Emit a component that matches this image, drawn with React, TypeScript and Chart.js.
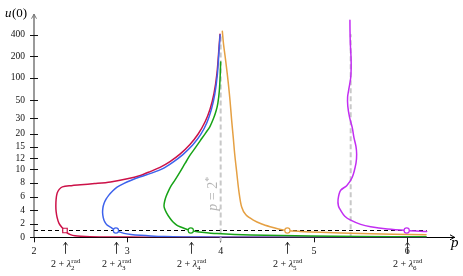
import React, { useEffect, useRef } from 'react';
import { Chart, registerables, LinearScale } from 'chart.js';

// ---------- data ----------
const X_TICKS = [2, 3, 4, 5, 6];
const Y_TICKS = [0, 2, 4, 6, 8, 10, 12, 15, 20, 30, 50, 100, 200, 400];
const X_MIN = 2;
const X_MAX = 6.5;
const Y_MIN = 0;
const Y_MAX = 780;

const LAMBDA_K = [2, 3, 4, 5, 6];
const LAMBDA_P = [2.332, 2.878, 3.68, 4.715, 5.993];
const LEVEL_U = 1;
const LEVEL_P_END = 6.207;
const CRITICAL_P = 4;
const CRITICAL_U_RANGE = [-0.6, 400];
const ASYM6_P = 5.393;
const ASYM6_U_RANGE = [0, 410];

const RED_P = [6.2, 5.0, 4.0, 3.4, 3.0, 2.75, 2.6, 2.5, 2.44, 2.39, 2.355, 2.332, 2.3, 2.268, 2.248, 2.237, 2.234, 2.237, 2.248, 2.27, 2.304, 2.4, 2.5, 2.65, 2.82, 3.0, 3.14, 3.25, 3.35, 3.457, 3.564, 3.671, 3.757, 3.832, 3.886, 3.928, 3.96, 3.982, 3.993];
const RED_U = [0.005, 0.008, 0.012, 0.02, 0.03, 0.05, 0.08, 0.14, 0.22, 0.4, 0.65, 1.0, 1.45, 2.05, 2.9, 3.8, 4.6, 5.6, 6.5, 7.05, 7.42, 7.6, 7.72, 7.9, 8.15, 8.6, 9.1, 9.7, 10.3, 11.3, 12.9, 15.7, 19.8, 27, 38.5, 61, 114, 260, 410];

const BLUE_P = [6.2, 5.0, 4.0, 3.6, 3.4, 3.25, 3.14, 3.04, 2.964, 2.915, 2.878, 2.845, 2.815, 2.78, 2.757, 2.742, 2.735, 2.738, 2.75, 2.772, 2.8, 2.845, 2.89, 2.96, 3.036, 3.14, 3.25, 3.38, 3.49, 3.595, 3.7, 3.785, 3.852, 3.9, 3.937, 3.965, 3.984, 3.994];
const BLUE_U = [0.005, 0.01, 0.02, 0.05, 0.1, 0.19, 0.29, 0.42, 0.58, 0.8, 1.0, 1.25, 1.55, 1.85, 2.3, 2.9, 3.6, 4.3, 4.96, 5.6, 6.17, 6.85, 7.38, 7.9, 8.36, 8.9, 9.4, 10.1, 11.2, 12.8, 15.5, 19.6, 26.5, 38, 60, 112, 255, 400];

const GREEN_P = [6.2, 5.5, 4.96, 4.32, 3.96, 3.8, 3.72, 3.68, 3.62, 3.565, 3.529, 3.49, 3.457, 3.42, 3.397, 3.393, 3.4, 3.415, 3.44, 3.47, 3.51, 3.56, 3.62, 3.67, 3.72, 3.78, 3.84, 3.885, 3.925, 3.952, 3.97, 3.985, 3.994, 4.0];
const GREEN_U = [0.08, 0.12, 0.19, 0.33, 0.55, 0.75, 0.9, 1.0, 1.25, 1.55, 1.8, 2.25, 2.8, 3.6, 4.3, 4.7, 5.3, 6.0, 6.8, 7.6, 8.4, 9.5, 11, 12.6, 14.3, 17, 20.5, 24, 30, 37, 46, 65, 100, 165];

const ORANGE_P = [4.018, 4.03, 4.046, 4.062, 4.08, 4.1, 4.118, 4.135, 4.15, 4.17, 4.195, 4.225, 4.27, 4.35, 4.44, 4.53, 4.62, 4.715, 4.85, 5.07, 5.5, 6.2];
const ORANGE_U = [450, 300, 206, 140, 88, 50, 28, 18.3, 13, 9.8, 6.8, 4.46, 3.3, 2.52, 1.95, 1.55, 1.22, 1.0, 0.87, 0.73, 0.55, 0.37];

const MAGENTA_P = [5.385, 5.386, 5.39, 5.397, 5.398, 5.393, 5.375, 5.36, 5.362, 5.38, 5.41, 5.428, 5.45, 5.457, 5.45, 5.41, 5.35, 5.285, 5.258, 5.262, 5.285, 5.33, 5.393, 5.5, 5.607, 5.786, 5.993, 6.207];
const MAGENTA_U = [650, 450, 286, 190, 134, 99, 72, 55, 42, 31, 23.3, 18.3, 15, 12.9, 11, 8.83, 7.6, 6.9, 5.6, 4.6, 3.98, 3.1, 2.52, 1.9, 1.55, 1.21, 1.0, 0.87];

const COLORS = ['#cc1148', '#3d62ec', '#17a317', '#e5a043', '#c22ef2'];
const MARKER_STYLES = ['rect', 'circle', 'circle', 'circle', 'circle'];

// ---------- warped y scale (linear up to 10, logarithmic-like above) ----------
const WARP_LIN = 10;
const WARP_C = 4.4;
const warp = (u: number) => (u <= WARP_LIN ? u : WARP_LIN + WARP_C * Math.log(1 + (u - WARP_LIN) / WARP_C));
const unwarp = (t: number) => (t <= WARP_LIN ? t : WARP_LIN + WARP_C * (Math.exp((t - WARP_LIN) / WARP_C) - 1));

class WarpScale extends (LinearScale as any) {
  static id = 'warp';
  static defaults = {};
  buildTicks() {
    return Y_TICKS.map((v) => ({ value: v }));
  }
  getPixelForValue(v: number) {
    const a = warp(this.min);
    const b = warp(this.max);
    return this.getPixelForDecimal((warp(v) - a) / (b - a));
  }
  getValueForPixel(px: number) {
    const a = warp(this.min);
    const b = warp(this.max);
    return unwarp(a + this.getDecimalForPixel(px) * (b - a));
  }
}

Chart.register(...registerables);
Chart.register(WarpScale as any);

const SERIF = '"Liberation Serif", "DejaVu Serif", serif';

const pts = (P: number[], U: number[]) => P.map((p, i) => ({ x: p, y: U[i] }));

const overlay = {
  id: 'overlay',
  afterDraw(chart: any) {
    const { ctx, chartArea: a, scales } = chart;
    const xs = scales.x;
    const ys = scales.y;
    ctx.save();
    // y tick marks crossing the axis
    ctx.strokeStyle = '#111';
    ctx.lineWidth = 1;
    Y_TICKS.forEach((v) => {
      const py = Math.round(ys.getPixelForValue(v)) + 0.5;
      ctx.beginPath();
      ctx.moveTo(a.left - 4, py);
      ctx.lineTo(a.left + 4, py);
      ctx.stroke();
    });
    // arrow heads
    ctx.strokeStyle = '#777';
    ctx.beginPath();
    ctx.moveTo(a.left - 2.5, a.top + 4);
    ctx.lineTo(a.left, a.top - 0.5);
    ctx.lineTo(a.left + 2.5, a.top + 4);
    ctx.stroke();
    ctx.strokeStyle = '#000';
    ctx.beginPath();
    ctx.moveTo(a.right - 4, a.bottom - 2.5);
    ctx.lineTo(a.right + 0.5, a.bottom);
    ctx.lineTo(a.right - 4, a.bottom + 2.5);
    ctx.stroke();
    // axis titles
    ctx.fillStyle = '#000';
    ctx.textAlign = 'left';
    ctx.textBaseline = 'alphabetic';
    ctx.font = `italic 13px ${SERIF}`;
    ctx.fillText('u', 5, 17);
    const wu = ctx.measureText('u').width;
    ctx.font = `13px ${SERIF}`;
    ctx.fillText('(0)', 5 + wu + 0.5, 17);
    ctx.font = `italic 15px ${SERIF}`;
    ctx.fillText('p', a.right - 3, a.bottom + 10);

    // rotated label p = 2*
    ctx.save();
    ctx.translate(xs.getPixelForValue(CRITICAL_P) - 4, ys.getPixelForValue(6.4));
    ctx.rotate(-Math.PI / 2);
    ctx.fillStyle = '#b4b4b4';
    ctx.font = `italic 14px ${SERIF}`;
    const w1 = ctx.measureText('p').width;
    ctx.font = `14px ${SERIF}`;
    const w2 = ctx.measureText(' = 2').width;
    ctx.font = `10px ${SERIF}`;
    const w3 = ctx.measureText('*').width;
    let sx = -(w1 + w2 + w3) / 2;
    ctx.font = `italic 14px ${SERIF}`;
    ctx.fillText('p', sx, 0);
    sx += w1;
    ctx.font = `14px ${SERIF}`;
    ctx.fillText(' = 2', sx, 0);
    sx += w2;
    ctx.font = `10px ${SERIF}`;
    ctx.fillText('*', sx, -5);
    ctx.restore();

    // lambda arrows and labels
    LAMBDA_P.forEach((p, i) => {
      const px = Math.round(xs.getPixelForValue(p)) + 0.5;
      const tip = a.bottom + 5;
      const tail = a.bottom + 16.5;
      ctx.strokeStyle = '#222';
      ctx.lineWidth = 0.9;
      ctx.beginPath();
      ctx.moveTo(px, tail);
      ctx.lineTo(px, tip);
      ctx.stroke();
      ctx.beginPath();
      ctx.moveTo(px - 2, tip + 3);
      ctx.lineTo(px, tip);
      ctx.lineTo(px + 2, tip + 3);
      ctx.stroke();

      const base = a.bottom + 30;
      ctx.fillStyle = '#111';
      ctx.font = `10px ${SERIF}`;
      const wa = ctx.measureText('2 + ').width;
      ctx.font = `italic 10px ${SERIF}`;
      const wl = ctx.measureText('λ').width;
      ctx.font = `7px ${SERIF}`;
      const wsub = ctx.measureText(String(LAMBDA_K[i])).width;
      const wsup = ctx.measureText('rad').width;
      const total = wa + wl + Math.max(wsub, wsup);
      let lx = px - total / 2;
      ctx.font = `10px ${SERIF}`;
      ctx.fillText('2 + ', lx, base);
      lx += wa;
      ctx.font = `italic 10px ${SERIF}`;
      ctx.fillText('λ', lx, base);
      lx += wl;
      ctx.font = `7px ${SERIF}`;
      ctx.fillText('rad', lx + 0.3, base - 4);
      ctx.fillText(String(LAMBDA_K[i]), lx, base + 2.5);
    });
    ctx.restore();
  },
};

export default function App() {
  const ref = useRef<HTMLCanvasElement | null>(null);
  useEffect(() => {
    if (!ref.current) return;
    const curve = (P: number[], U: number[], color: string, order: number) => ({
      data: pts(P, U),
      showLine: true,
      borderColor: color,
      borderWidth: 1.5,
      pointRadius: 0,
      tension: 0.3,
      fill: false,
      order,
      borderJoinStyle: 'round',
      borderCapStyle: 'round',
    });
    const chart = new Chart(ref.current, {
      type: 'scatter',
      data: {
        datasets: [
          {
            data: [
              { x: CRITICAL_P, y: CRITICAL_U_RANGE[0] },
              { x: CRITICAL_P, y: CRITICAL_U_RANGE[1] },
            ],
            showLine: true,
            borderColor: '#c8c8c8',
            borderWidth: 2,
            borderDash: [5, 3],
            pointRadius: 0,
            tension: 0,
            clip: false,
            order: 20,
          } as any,
          {
            data: [
              { x: ASYM6_P, y: ASYM6_U_RANGE[0] },
              { x: ASYM6_P, y: ASYM6_U_RANGE[1] },
            ],
            showLine: true,
            borderColor: '#c8c8c8',
            borderWidth: 2,
            borderDash: [5, 3],
            pointRadius: 0,
            tension: 0,
            order: 20,
          } as any,
          {
            data: [
              { x: X_MIN, y: LEVEL_U },
              { x: LEVEL_P_END, y: LEVEL_U },
            ],
            showLine: true,
            borderColor: '#000',
            borderWidth: 1,
            borderDash: [4, 3],
            pointRadius: 0,
            tension: 0,
            order: 19,
          } as any,
          curve(RED_P, RED_U, COLORS[0], 8) as any,
          curve(BLUE_P, BLUE_U, COLORS[1], 7) as any,
          curve(GREEN_P, GREEN_U, COLORS[2], 6) as any,
          curve(ORANGE_P, ORANGE_U, COLORS[3], 5) as any,
          curve(MAGENTA_P, MAGENTA_U, COLORS[4], 4) as any,
          {
            data: LAMBDA_P.map((p) => ({ x: p, y: LEVEL_U })),
            showLine: false,
            pointStyle: MARKER_STYLES,
            pointRadius: MARKER_STYLES.map((s) => (s === 'rect' ? 3.2 : 2.6)),
            pointBorderWidth: 1.2,
            pointBorderColor: COLORS,
            pointBackgroundColor: '#ffffff',
            order: 0,
          } as any,
        ],
      },
      options: {
        responsive: false,
        animation: false,
        events: [],
        layout: { padding: { top: 12.6, right: 9, left: 0, bottom: 0 } },
        plugins: { legend: { display: false }, tooltip: { enabled: false } },
        scales: {
          x: {
            type: 'linear',
            min: X_MIN,
            max: X_MAX,
            afterBuildTicks: (s: any) => {
              s.ticks = X_TICKS.map((v) => ({ value: v }));
            },
            afterFit: (s: any) => {
              s.height = 38.7;
            },
            grid: { display: true, drawOnChartArea: false, drawTicks: true, tickLength: 5, color: '#111', lineWidth: 1 },
            border: { display: true, color: '#000', width: 1 },
            ticks: {
              autoSkip: false,
              maxRotation: 0,
              padding: 3,
              color: '#111',
              font: { family: SERIF, size: 10 },
              callback: (v: any) => String(v),
            },
          },
          y: {
            type: 'warp',
            min: Y_MIN,
            max: Y_MAX,
            afterFit: (s: any) => {
              s.width = 34;
            },
            grid: { display: false, drawTicks: false },
            border: { display: true, color: '#9a9a9a', width: 2 },
            ticks: {
              autoSkip: false,
              padding: 9,
              color: '#111',
              font: { family: SERIF, size: 9.5 },
              callback: (v: any) => String(v),
            },
          },
        } as any,
      },
      plugins: [overlay],
    } as any);
    return () => chart.destroy();
  }, []);
  return (
    <div style={{ position: 'fixed', left: 0, top: 0, width: 463, height: 276 }}>
      <canvas ref={ref} width={463} height={276} style={{ display: 'block' }} />
    </div>
  );
}
